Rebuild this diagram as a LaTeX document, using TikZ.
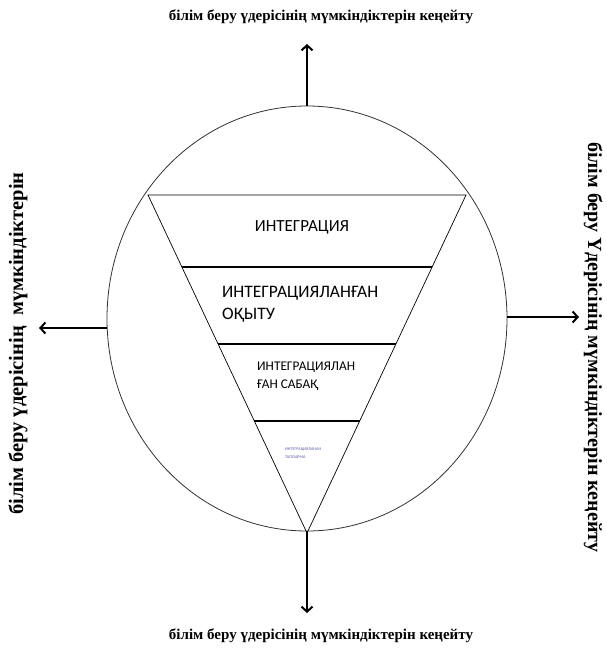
\documentclass[tikz,border=0pt]{standalone}
\usepackage{fontspec}
\setmainfont{Liberation Serif}
\newfontfamily\trisans{Carlito}
\usetikzlibrary{arrows.meta,shapes.geometric}
\begin{document}
\begin{tikzpicture}[x=1pt,y=-1pt,
  outarrow/.style={line width=2.2pt,-{Straight Barb[length=5pt,width=11pt,line width=2pt]}},
  sidelabel/.style={font=\bfseries\fontsize{15}{17}\selectfont,inner sep=0pt},
  tritext/.style={font=\trisans,inner sep=0pt,align=left}]
\useasboundingbox (0,0) rectangle (607,648);
% circle
\node[ellipse,draw=black!80,line width=0.8pt,minimum width=400pt,minimum height=425pt,inner sep=0pt] (circ) at (307,318.5) {};
% triangle
\coordinate (tl) at (148,195);
\coordinate (tr) at (466,195);
\coordinate (ap) at (307,533);
\draw[line width=0.7pt] (tl) -- (tr) -- (ap) -- cycle;
\path (tl) -- (ap) coordinate[pos=0.213] (l1) coordinate[pos=0.441] (l2) coordinate[pos=0.669] (l3);
\path (tr) -- (ap) coordinate[pos=0.213] (r1) coordinate[pos=0.441] (r2) coordinate[pos=0.669] (r3);
\draw[line width=1.1pt] (l1) -- (r1);
\draw[line width=1.5pt] (l2) -- (r2);
\draw[line width=2pt] (l3) -- (r3);
% texts in triangle
\node[tritext,font=\trisans\fontsize{17}{20}\selectfont] (t1) at (302,227) {ИНТЕГРАЦИЯ};
\node[tritext,font=\trisans\fontsize{17.5}{22}\selectfont,anchor=west] (t2) at (222,304) {ИНТЕГРАЦИЯЛАНҒАН\\ОҚЫТУ};
\node[tritext,font=\trisans\fontsize{13.3}{18}\selectfont,anchor=west] (t3) at (257,376) {ИНТЕГРАЦИЯЛАН\\ҒАН САБАҚ};
\node[tritext,font=\trisans\fontsize{4.2}{8}\selectfont,text=blue!30!gray,anchor=west] (t4) at (285,453) {ИНТЕГРАЦИЯЛАНАН\\ТАПСЫРМА};
% arrows
\coordinate (etop) at (307,44);
\coordinate (ebot) at (307,613);
\coordinate (eleft) at (39,328);
\coordinate (eright) at (579,317);
\draw[outarrow] (circ.north) -- (etop);
\draw[outarrow] (circ.south) -- (ebot);
\draw[outarrow] (circ.west |- eleft) -- (eleft);
\draw[outarrow] (circ.east |- eright) -- (eright);
% labels
\node[sidelabel] (ltop) at (321,17) {білім беру үдерісінің мүмкіндіктерін кеңейту};
\node[sidelabel] (lbot) at (321,636) {білім беру үдерісінің мүмкіндіктерін кеңейту};
\node[sidelabel,rotate=90,anchor=west,font=\bfseries\fontsize{20.5}{22}\selectfont] (lleft) at (18,515) {білім беру үдерісінің \ мүмкіндіктерін};
\node[sidelabel,rotate=-90,anchor=west,font=\bfseries\fontsize{20}{22}\selectfont] (lright) at (593,142) {білім беру Үдерісінің мүмкіндіктерін кеңейту};
\end{tikzpicture}
\end{document}
